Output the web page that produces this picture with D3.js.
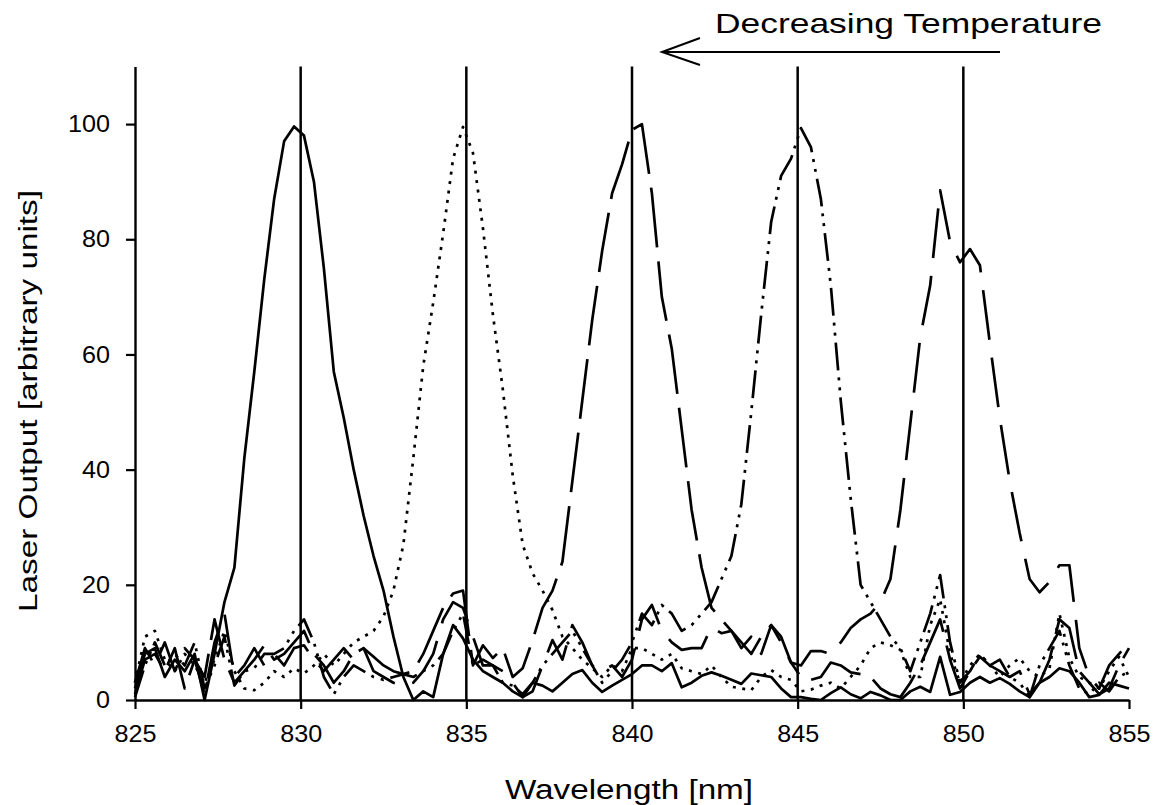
<!DOCTYPE html>
<html>
<head>
<meta charset="utf-8">
<script src="https://cdn.jsdelivr.net/npm/d3@7"></script>
<style>
  body { margin: 0; background: #fff; }
  svg text { font-family: "Liberation Sans", Arial, sans-serif; fill: #000; }
</style>
</head>
<body>
<svg width="1157" height="805"></svg>
<script>
// wavelength grid of the spectra [nm]
const wavelength = [
  825,825.3,825.6,825.9,826.2,826.5,826.8,827.1,827.4,827.7,
  828,828.3,828.6,828.9,829.2,829.5,829.8,830.1,830.4,830.7,
  831,831.3,831.6,831.9,832.2,832.5,832.8,833.1,833.4,833.7,
  834,834.3,834.6,834.9,835.2,835.5,835.8,836.1,836.4,836.7,
  837,837.3,837.6,837.9,838.2,838.5,838.8,839.1,839.4,839.7,
  840,840.3,840.6,840.9,841.2,841.5,841.8,842.1,842.4,842.7,
  843,843.3,843.6,843.9,844.2,844.5,844.8,845.1,845.4,845.7,
  846,846.3,846.6,846.9,847.2,847.5,847.8,848.1,848.4,848.7,
  849,849.3,849.6,849.9,850.2,850.5,850.8,851.1,851.4,851.7,
  852,852.3,852.6,852.9,853.2,853.5,853.8,854.1,854.4,854.7,
  855
];

// peak at 830 nm (solid)
const spec830 = [
  2,8,9,4,7,5,8,0,8,17,
  23,42,57,73,87,97,99.6,98,90,75,
  57,49,40,32,25,19,11,4,0,1.5,
  0.5,8,13,10.7,7,5,4,3,1.5,0.5,
  3,2.5,1.5,3,4.5,5.2,3,1.4,2.5,3.5,
  4.5,6,6,5,6.4,2.2,3,4.2,4.8,4.2,
  3.5,2.8,4.6,4.3,4,2,0.5,0.5,0.2,0,
  1.2,2.2,1,0.3,1.4,0.8,0,0,1.5,2.3,
  1.4,7.5,0.9,1.4,3,4,3,3.8,2.8,1.5,
  0.5,3,4,5.5,5,3,0.5,0.9,3,2.5,
  2
];

// peak at 835 nm (dotted)
const spec835 = [
  3,11,12,7,5,8,6,3,7,12,
  5,2,1.7,3,5,4,5.5,4.6,6,8,
  6,8,10,11,12,14.5,19,27,42,58,
  69,81,94,99.5,95,82,67,54,39,27,
  22,19,15.6,11,9,7,5.5,4,6,5,
  9,9,8,7,8,5.5,5,4.5,6,4,
  2.3,2,1.7,4,5.2,4,3.5,1.5,1.8,2.5,
  3,2,4,6,9,10,9.5,8.7,4,4,
  13,17.5,8,3,6,8,6,4,6,7.3,
  5,4,5.5,15,7.3,4,3,2,5,7.5,
  4
];

// peak at 840 nm (long dash)
const spec840 = [
  1,7,8,5,9,2,7,4,14,7,
  3,5,7,9.5,7,8,10,12,8,6,
  3,5,8,9,7.5,6,5,4.5,5,8,
  12,16,18.5,19,6,9.5,7.3,9,4,5.5,
  10.4,16,19,24,38,52,66,78,88,93,
  99,100,88,70,61,47,33,23,16,14,
  12,10,8,11,13,11,6.5,4,3.5,4,
  6.5,6,4.8,4.5,4,2,1,0.5,3,6,
  10,14,7,2,5,7.5,6,5,4,5,
  1,3,7,14,12.5,5,3,1,2,6,
  9
];

// peak at 845 nm (dash-dot-dot)
const spec845 = [
  0.5,6,10,6,8,6,10,2,6,11,
  2.5,5,5.5,8,8,9,12,14,10,4,
  1,4,6,5,4,3.5,4,4.5,4,5,
  6,8,12,15,6,7,6,3,2.5,1,
  3,6,8,10,12,9,6,3,5,7,
  10,15,13,16.5,15,12,13,15,17,21,
  25,34,50,67,83,91,94,99.3,96,87,
  72,52,35,20,17,14,11,9,5,10,
  15,21.7,10,3,5,8,6,7,4,3,
  0.5,6,9,12,6,2,1,3,1.5,4,
  5
];

// double peak around 850 nm (dashed)
const spec850 = [
  3,9,6,10,5,9,7,1,10,15,
  4,6,9,6,8,6,9,9.5,7,5,
  7,9,7,9,5,4,3,2.5,3,5,
  8,14,17,16,11,6,6,5,3,0.5,
  1.5,6,10.4,7,13,10,6,5,6,4,
  7,14,16.5,12,10,8.7,9,9,12.7,11.6,
  12,9,11,8,13,10,6.5,6,8.5,8.5,
  8,10,12.5,14,15,17,21,33,48,63,
  72,88.5,79.5,76,78.3,75.5,62,49,38,29,
  21,18.7,20.5,23.4,23.4,9,4,2,6,8,
  10
];

const xTicks = [825, 830, 835, 840, 845, 850, 855];
const yTicks = [0, 20, 40, 60, 80, 100];
const markers = [830, 835, 840, 845, 850];

const svg = d3.select('svg');

const x = d3.scaleLinear().domain([825, 855]).range([135, 1129]);
const y = d3.scaleLinear().domain([0, 110]).range([700, 66.5]);

// vertical reference lines
svg.append('g').selectAll('line').data(markers).enter()
  .append('line')
  .attr('x1', d => x(d)).attr('x2', d => x(d))
  .attr('y1', y(0)).attr('y2', y(110))
  .attr('stroke', '#000')
  .attr('stroke-width', 2.5);

// spectra
const series = [
  { values: spec830, dash: null },
  { values: spec835, dash: '3 6.5' },
  { values: spec840, dash: '60 14' },
  { values: spec845, dash: '28 7 3 7 3 7' },
  { values: spec850, dash: '50 18' }
];

const line = d3.line()
  .x((d, i) => x(wavelength[i]))
  .y(d => y(d));

svg.append('g').selectAll('path').data(series).enter()
  .append('path')
  .attr('d', d => line(d.values))
  .attr('fill', 'none')
  .attr('stroke', '#000')
  .attr('stroke-width', 2.7)
  .attr('stroke-linejoin', 'round')
  .attr('stroke-dasharray', d => d.dash);

// axes
const xAxis = d3.axisBottom(x)
  .tickValues(xTicks)
  .tickSize(9)
  .tickSizeOuter(0)
  .tickPadding(16)
  .tickFormat(d3.format('d'));

const yAxis = d3.axisLeft(y)
  .tickValues(yTicks)
  .tickSize(9)
  .tickSizeOuter(0)
  .tickPadding(16);

const gx = svg.append('g').attr('transform', `translate(0, ${y(0)})`).call(xAxis);
const gy = svg.append('g').attr('transform', `translate(${x(825)}, 0)`).call(yAxis);

[gx, gy].forEach(g => {
  g.select('.domain').attr('stroke', '#000').attr('stroke-width', 2.4);
  g.selectAll('.tick line').attr('stroke', '#000').attr('stroke-width', 2.2);
  g.selectAll('.tick text')
    .attr('font-size', 24)
    .attr('font-family', '"Liberation Sans", Arial, sans-serif')
    .attr('textLength', d => String(d).length * 14)
    .attr('lengthAdjust', 'spacingAndGlyphs');
});

// axis titles
svg.append('text')
  .attr('x', 629).attr('y', 799)
  .attr('text-anchor', 'middle')
  .attr('font-size', 27)
  .attr('textLength', 248)
  .attr('lengthAdjust', 'spacingAndGlyphs')
  .text('Wavelength [nm]');

svg.append('text')
  .attr('transform', 'translate(37, 401) rotate(-90)')
  .attr('text-anchor', 'middle')
  .attr('font-size', 26)
  .attr('textLength', 422)
  .attr('lengthAdjust', 'spacingAndGlyphs')
  .text('Laser Output [arbitrary units]');

// annotation with arrow
svg.append('text')
  .attr('x', 715).attr('y', 33)
  .attr('font-size', 28)
  .attr('textLength', 387)
  .attr('lengthAdjust', 'spacingAndGlyphs')
  .text('Decreasing Temperature');

svg.append('path')
  .attr('d', 'M662,52 H1000 M700,38 L662,52 L700,65')
  .attr('fill', 'none')
  .attr('stroke', '#000')
  .attr('stroke-width', 2);
</script>
</body>
</html>
